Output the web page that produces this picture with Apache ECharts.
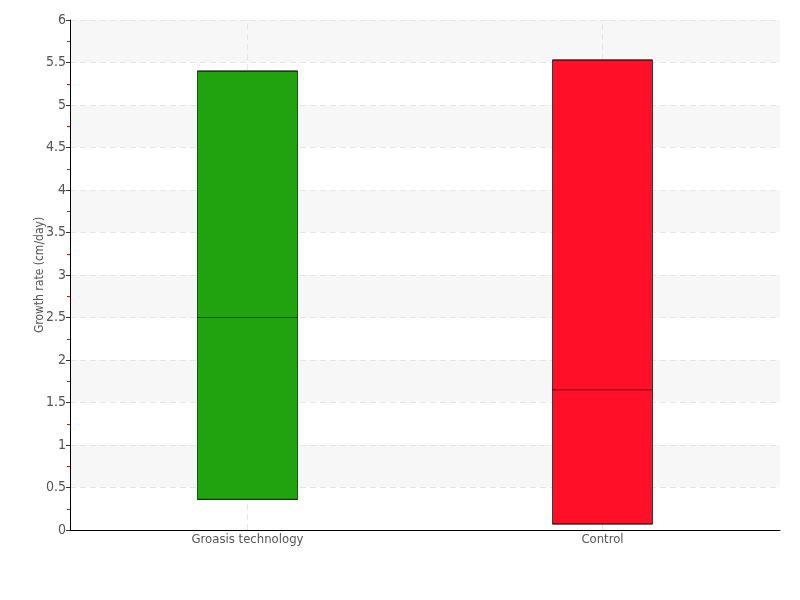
<!DOCTYPE html>
<html>
<head>
<meta charset="utf-8">
<script src="https://cdn.jsdelivr.net/npm/echarts@6/dist/echarts.min.js"></script>
<style>html,body{margin:0;padding:0;background:#fff}#c{width:800px;height:600px}</style>
</head>
<body>
<div id="c"></div>
<script>
var categories = ['Groasis technology', 'Control'];
var lowValues = [0.36, 0.07];
var medianValues = [2.5, 1.65];
var highValues = [5.4, 5.53];
var boxColors = ['#21a30f', '#ff0f28'];
var yAxisTitle = 'Growth rate (cm/day)';

var FONT = '"DejaVu Sans Condensed", "Liberation Sans Narrow", "Noto Sans", sans-serif';
var chart = echarts.init(document.getElementById('c'));
var boxData = categories.map(function (c, i) {
  return {
    value: [lowValues[i], lowValues[i], medianValues[i], highValues[i], highValues[i]],
    itemStyle: { color: boxColors[i], borderColor: 'rgba(0,0,0,0.65)', borderWidth: 1 }
  };
});
chart.setOption({
  animation: false,
  grid: { left: 70, right: 20, top: 20, bottom: 70 },
  xAxis: {
    type: 'category',
    data: categories,
    boundaryGap: true,
    axisLine: { lineStyle: { color: '#000', width: 1 } },
    axisTick: { alignWithLabel: true, length: 4, lineStyle: { color: '#555' } },
    axisLabel: { color: '#555', fontFamily: FONT, fontSize: 13, margin: 3 },
    splitLine: { show: false }
  },
  yAxis: {
    type: 'value',
    min: 0, max: 6, interval: 0.5,
    name: yAxisTitle,
    nameLocation: 'middle',
    nameGap: 24,
    nameMoveOverlap: false,
    nameTextStyle: { color: '#555', fontFamily: FONT, fontSize: 12 },
    axisLine: { show: true, lineStyle: { color: '#000', width: 1 } },
    axisTick: { show: true, length: 4, lineStyle: { color: '#333' } },
    minorTick: { show: true, splitNumber: 2, length: 3, lineStyle: { color: '#ff0000', width: 1 } },
    axisLabel: { color: '#555', fontFamily: FONT, fontSize: 14, margin: 4 },
    splitLine: { show: true, lineStyle: { color: '#e6e6e6', type: [6, 4] } },
    splitArea: { show: true, areaStyle: { color: ['#ffffff', '#f7f7f7'] } }
  },
  series: [
    {
      type: 'line',
      data: [],
      z: 1,
      silent: true,
      markLine: {
        z: 0,
        silent: true,
        symbol: 'none',
        label: { show: false },
        lineStyle: { color: '#e6e6e6', type: [6, 4], width: 1 },
        data: categories.map(function (c) { return { xAxis: c }; })
      }
    },
    {
      type: 'boxplot',
      z: 3,
      boxWidth: [100, 100],
      data: boxData
    }
  ]
});
</script>
</body>
</html>
